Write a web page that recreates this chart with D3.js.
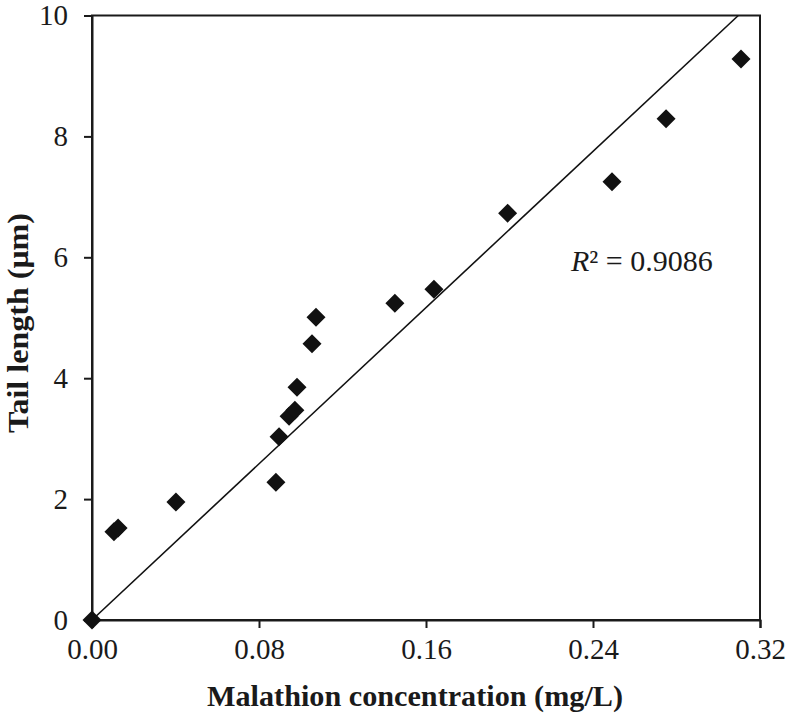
<!DOCTYPE html>
<html><head><meta charset="utf-8">
<script src="https://cdn.jsdelivr.net/npm/d3@7"></script>
<style>body{margin:0;background:#fff}</style>
</head><body>
<svg id="c" width="787" height="717"></svg>
<script>
const concentration = [0, 0.0105, 0.0125, 0.0402, 0.0881, 0.0896, 0.0944, 0.0972, 0.0982, 0.1054, 0.1073, 0.1451, 0.1638, 0.1991, 0.2491, 0.2750, 0.3109];
const tailLength    = [0, 1.46, 1.52, 1.95, 2.28, 3.03, 3.37, 3.47, 3.85, 4.57, 5.01, 5.24, 5.47, 6.73, 7.25, 8.29, 9.28];
const xTicks = [0, 0.08, 0.16, 0.24, 0.32];
const yTicks = [0, 2, 4, 6, 8, 10];
const fitSlope = 32.3;
const r2Text = "0.9086";

const svg = d3.select("#c");
const L = 92, R = 760, T = 15.5, B = 620;
const x = d3.scaleLinear().domain([0, 0.32]).range([L, R]);
const y = d3.scaleLinear().domain([0, 10]).range([B, T]);
const font = "'Liberation Serif','Times New Roman',serif";

// box
svg.append("rect").attr("x", L).attr("y", T).attr("width", R - L).attr("height", B - T)
  .attr("fill", "none").attr("stroke", "#1a1a1a").attr("stroke-width", 2);

const xa = svg.append("g").attr("transform", `translate(0,${B})`)
  .call(d3.axisBottom(x).tickValues(xTicks).tickFormat(d3.format(".2f")).tickSize(8).tickPadding(10));
const ya = svg.append("g").attr("transform", `translate(${L},0)`)
  .call(d3.axisLeft(y).tickValues(yTicks).tickFormat(d3.format("d")).tickSize(8).tickPadding(16));
[xa, ya].forEach(a => {
  a.select(".domain").attr("stroke", "#1a1a1a").attr("stroke-width", 2);
  a.selectAll(".tick line").attr("stroke", "#1a1a1a").attr("stroke-width", 2);
  a.selectAll("text").attr("font-family", font).attr("font-size", 29).attr("fill", "#1a1a1a");
});

// fit line through origin, clipped at top of plot
const xEnd = Math.min(0.32, 10 / fitSlope);
svg.append("line").attr("x1", x(0)).attr("y1", y(0)).attr("x2", x(xEnd)).attr("y2", y(fitSlope * xEnd))
  .attr("stroke", "#111").attr("stroke-width", 1.6);

// diamonds
const r = 9.5;
svg.append("g").selectAll("path").data(concentration.map((c, i) => [c, tailLength[i]])).join("path")
  .attr("d", d => { const cx = x(d[0]), cy = y(d[1]); return `M${cx},${cy - r}L${cx + r},${cy}L${cx},${cy + r}L${cx - r},${cy}Z`; })
  .attr("fill", "#111");

// R2 label
const t = svg.append("text").attr("x", 571).attr("y", 271).attr("font-family", font).attr("font-size", 30).attr("fill", "#1a1a1a");
t.append("tspan").attr("font-style", "italic").text("R");
t.append("tspan").text("² = " + r2Text);

// axis titles
svg.append("text").attr("x", 415).attr("y", 706).attr("text-anchor", "middle")
  .attr("font-family", font).attr("font-weight", "bold").attr("font-size", 29).attr("fill", "#1a1a1a")
  .attr("textLength", 416).attr("lengthAdjust", "spacingAndGlyphs")
  .text("Malathion concentration (mg/L)");
svg.append("text").attr("transform", `translate(28,323) rotate(-90)`).attr("text-anchor", "middle")
  .attr("font-family", font).attr("font-weight", "bold").attr("font-size", 29).attr("fill", "#1a1a1a")
  .attr("textLength", 220).attr("lengthAdjust", "spacingAndGlyphs")
  .text("Tail length (μm)");
</script>
</body></html>
